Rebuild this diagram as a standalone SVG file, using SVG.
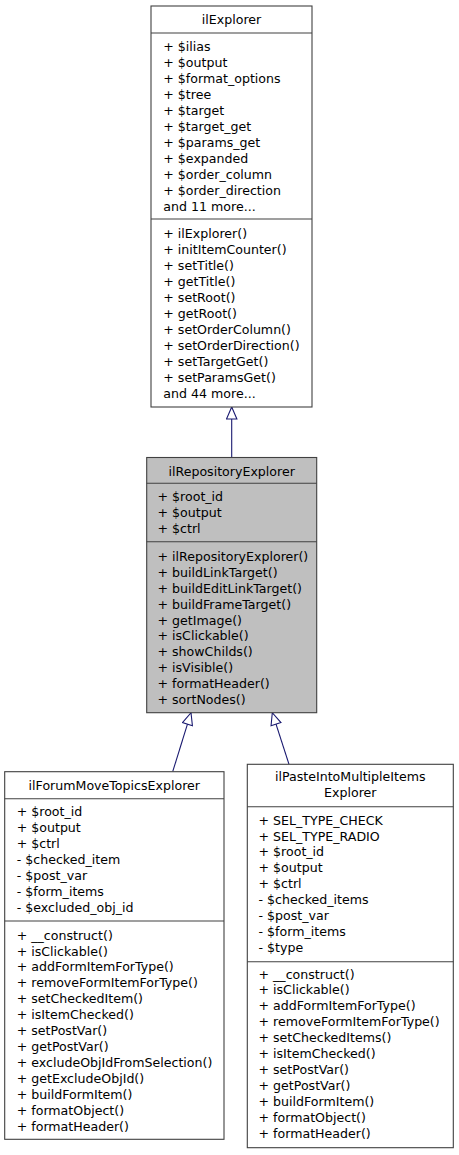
<svg xmlns="http://www.w3.org/2000/svg" width="459" height="1155" viewBox="0 0 459 1155">
<style>
text{font-family:"DejaVu Sans","Liberation Sans",sans-serif;font-size:12.6px;fill:#000}
.t{text-anchor:middle}
.box{fill:#fff;stroke:#404040;stroke-width:1.1}
.grey{fill:#bfbfbf}
.sep{stroke:#404040;stroke-width:1.1}
.edge{fill:none;stroke:#191970;stroke-width:1.1}
</style>
<defs>
<marker id="inh" viewBox="0 0 14 12" refX="13" refY="6" markerWidth="14" markerHeight="12" markerUnits="userSpaceOnUse" orient="auto">
<path d="M1,0.8 L13,6 L1,11.2 Z" fill="#fff" stroke="#191970" stroke-width="1.1"/>
</marker>
</defs>
<rect width="459" height="1155" fill="#fff"/>
<g id="edges">
<path class="edge" d="M231.7,457.5 L231.7,407" marker-end="url(#inh)"/>
<path class="edge" d="M172.7,771.7 L191,712.7" marker-end="url(#inh)"/>
<path class="edge" d="M289,764.3 L272.3,712.7" marker-end="url(#inh)"/>
</g>
<g id="ilExplorer">
<rect class="box" x="151" y="6" width="161" height="401"/>
<line class="sep" x1="151" y1="33" x2="312" y2="33"/>
<line class="sep" x1="151" y1="219" x2="312" y2="219"/>
<text class="t" x="231.5" y="23.5">ilExplorer</text>
<text x="163.3"><tspan x="163.3" y="51.2">+ $ilias</tspan><tspan x="163.3" y="67.2">+ $output</tspan><tspan x="163.3" y="83.2">+ $format_options</tspan><tspan x="163.3" y="99.2">+ $tree</tspan><tspan x="163.3" y="115.2">+ $target</tspan><tspan x="163.3" y="131.2">+ $target_get</tspan><tspan x="163.3" y="147.2">+ $params_get</tspan><tspan x="163.3" y="163.2">+ $expanded</tspan><tspan x="163.3" y="179.2">+ $order_column</tspan><tspan x="163.3" y="195.2">+ $order_direction</tspan><tspan x="163.3" y="211.2">and 11 more...</tspan></text>
<text x="163.3"><tspan x="163.3" y="237.8">+ ilExplorer()</tspan><tspan x="163.3" y="253.8">+ initItemCounter()</tspan><tspan x="163.3" y="269.8">+ setTitle()</tspan><tspan x="163.3" y="285.8">+ getTitle()</tspan><tspan x="163.3" y="301.8">+ setRoot()</tspan><tspan x="163.3" y="317.8">+ getRoot()</tspan><tspan x="163.3" y="333.8">+ setOrderColumn()</tspan><tspan x="163.3" y="349.8">+ setOrderDirection()</tspan><tspan x="163.3" y="365.8">+ setTargetGet()</tspan><tspan x="163.3" y="381.8">+ setParamsGet()</tspan><tspan x="163.3" y="397.8">and 44 more...</tspan></text>
</g>
<g id="ilRepositoryExplorer">
<rect class="box grey" x="146.7" y="457.5" width="170" height="255.2"/>
<line class="sep" x1="146.7" y1="483.3" x2="316.7" y2="483.3"/>
<line class="sep" x1="146.7" y1="541.7" x2="316.7" y2="541.7"/>
<text class="t" x="231.7" y="475.5">ilRepositoryExplorer</text>
<text x="157.5"><tspan x="157.5" y="501.2">+ $root_id</tspan><tspan x="157.5" y="517">+ $output</tspan><tspan x="157.5" y="532.8">+ $ctrl</tspan></text>
<text x="157.5"><tspan x="157.5" y="561.2">+ ilRepositoryExplorer()</tspan><tspan x="157.5" y="577.05">+ buildLinkTarget()</tspan><tspan x="157.5" y="592.9">+ buildEditLinkTarget()</tspan><tspan x="157.5" y="608.75">+ buildFrameTarget()</tspan><tspan x="157.5" y="624.6">+ getImage()</tspan><tspan x="157.5" y="640.45">+ isClickable()</tspan><tspan x="157.5" y="656.3">+ showChilds()</tspan><tspan x="157.5" y="672.15">+ isVisible()</tspan><tspan x="157.5" y="688">+ formatHeader()</tspan><tspan x="157.5" y="703.85">+ sortNodes()</tspan></text>
</g>
<g id="ilForumMoveTopicsExplorer">
<rect class="box" x="4.7" y="771.7" width="219.3" height="367.6"/>
<line class="sep" x1="4.7" y1="798.7" x2="224" y2="798.7"/>
<line class="sep" x1="4.7" y1="921" x2="224" y2="921"/>
<text class="t" x="114.3" y="789.5">ilForumMoveTopicsExplorer</text>
<text x="16.7"><tspan x="16.7" y="816.2">+ $root_id</tspan><tspan x="16.7" y="832.1">+ $output</tspan><tspan x="16.7" y="848.1">+ $ctrl</tspan><tspan x="16.7" y="864">- $checked_item</tspan><tspan x="16.7" y="879.9">- $post_var</tspan><tspan x="16.7" y="895.9">- $form_items</tspan><tspan x="16.7" y="911.8">- $excluded_obj_id</tspan></text>
<text x="16.7"><tspan x="16.7" y="939.5">+ __construct()</tspan><tspan x="16.7" y="955.5">+ isClickable()</tspan><tspan x="16.7" y="971.4">+ addFormItemForType()</tspan><tspan x="16.7" y="987.4">+ removeFormItemForType()</tspan><tspan x="16.7" y="1003.4">+ setCheckedItem()</tspan><tspan x="16.7" y="1019.4">+ isItemChecked()</tspan><tspan x="16.7" y="1035.3">+ setPostVar()</tspan><tspan x="16.7" y="1051.3">+ getPostVar()</tspan><tspan x="16.7" y="1067.3">+ excludeObjIdFromSelection()</tspan><tspan x="16.7" y="1083.2">+ getExcludeObjId()</tspan><tspan x="16.7" y="1099.2">+ buildFormItem()</tspan><tspan x="16.7" y="1115.2">+ formatObject()</tspan><tspan x="16.7" y="1131.1">+ formatHeader()</tspan></text>
</g>
<g id="ilPasteIntoMultipleItemsExplorer">
<rect class="box" x="247.3" y="764.3" width="206" height="383.4"/>
<line class="sep" x1="247.3" y1="806.7" x2="453.3" y2="806.7"/>
<line class="sep" x1="247.3" y1="961.7" x2="453.3" y2="961.7"/>
<text class="t" x="350.3"><tspan x="350.3" y="781.2">ilPasteIntoMultipleItems</tspan><tspan x="350.3" y="797.2">Explorer</tspan></text>
<text x="258.5"><tspan x="258.5" y="824.5">+ SEL_TYPE_CHECK</tspan><tspan x="258.5" y="840.5">+ SEL_TYPE_RADIO</tspan><tspan x="258.5" y="856.4">+ $root_id</tspan><tspan x="258.5" y="872.4">+ $output</tspan><tspan x="258.5" y="888.4">+ $ctrl</tspan><tspan x="258.5" y="904.4">- $checked_items</tspan><tspan x="258.5" y="920.3">- $post_var</tspan><tspan x="258.5" y="936.3">- $form_items</tspan><tspan x="258.5" y="952.3">- $type</tspan></text>
<text x="258.5"><tspan x="258.5" y="978.5">+ __construct()</tspan><tspan x="258.5" y="994.4">+ isClickable()</tspan><tspan x="258.5" y="1010.4">+ addFormItemForType()</tspan><tspan x="258.5" y="1026.3">+ removeFormItemForType()</tspan><tspan x="258.5" y="1042.2">+ setCheckedItems()</tspan><tspan x="258.5" y="1058.2">+ isItemChecked()</tspan><tspan x="258.5" y="1074.1">+ setPostVar()</tspan><tspan x="258.5" y="1090">+ getPostVar()</tspan><tspan x="258.5" y="1105.9">+ buildFormItem()</tspan><tspan x="258.5" y="1121.9">+ formatObject()</tspan><tspan x="258.5" y="1137.8">+ formatHeader()</tspan></text>
</g>
</svg>
